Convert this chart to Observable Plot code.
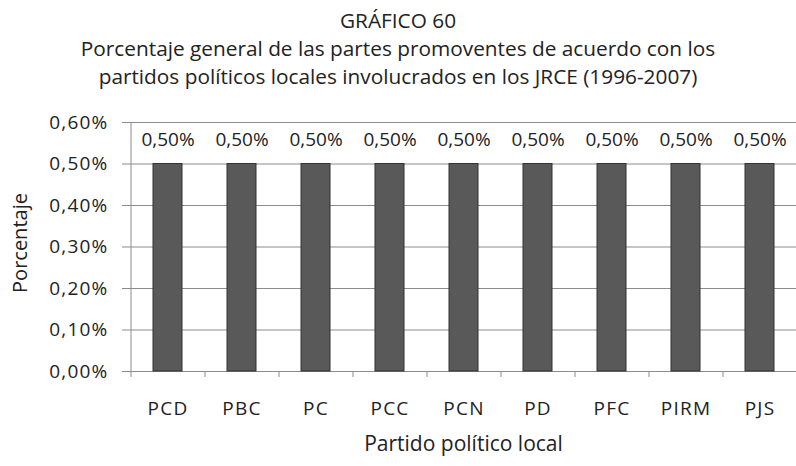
<!DOCTYPE html>
<html>
<head>
<meta charset="utf-8">
<script src="https://cdn.jsdelivr.net/npm/d3@7"></script>
<script src="https://cdn.jsdelivr.net/npm/@observablehq/plot@0.6"></script>
<style>
  html, body { margin: 0; padding: 0; background: #fff; }
  #wrap { width: 796px; height: 466px; position: relative; font-family: "Open Sans", sans-serif; color: #222; }
  #title { height: 100px; position: relative; }
  .tl { position: absolute; left: 0; width: 796px; text-align: center; font-size: 20.8px; line-height: 28px; white-space: nowrap; }
  svg { display: block; }
  g[aria-label="y-axis tick label"] text,
  g[aria-label="x-axis tick label"] text,
  g[aria-label="value-label"] text { letter-spacing: 1.2px; }
</style>
</head>
<body>
<div id="wrap">
  <div id="title">
    <div class="tl" id="t1" style="top:6px"></div>
    <div class="tl" id="t2" style="top:34px"></div>
    <div class="tl" id="t3" style="top:62px"></div>
  </div>
  <div id="chart"></div>
</div>
<script>
const titleLines = [
  "GRÁFICO 60",
  "Porcentaje general de las partes promoventes de acuerdo con los",
  "partidos políticos locales involucrados en los JRCE (1996-2007)"
];
const categories = ["PCD", "PBC", "PC", "PCC", "PCN", "PD", "PFC", "PIRM", "PJS"];
const values = [0.50, 0.50, 0.50, 0.50, 0.50, 0.50, 0.50, 0.50, 0.50];
const yTicks = [0, 0.1, 0.2, 0.3, 0.4, 0.5, 0.6];
const xLabel = "Partido político local";
const yLabel = "Porcentaje";

document.getElementById("t1").textContent = titleLines[0];
document.getElementById("t2").textContent = titleLines[1];
document.getElementById("t3").textContent = titleLines[2];

const data = categories.map((c, i) => ({cat: c, val: values[i]}));
const fmt = d => d.toFixed(2).replace(".", ",") + "%";

const chart = Plot.plot({
  width: 796,
  height: 366,
  marginTop: 22,
  marginBottom: 95,
  marginLeft: 130,
  marginRight: 0,
  style: {fontFamily: "'Open Sans', sans-serif", fontSize: "19px", color: "#222", background: "#fff", overflow: "visible"},
  x: {domain: categories, paddingInner: 0.61, paddingOuter: 0.305, axis: null},
  y: {domain: [0, 0.6], axis: null},
  marks: [
    Plot.gridY(yTicks, {stroke: "#8c8c8c", strokeOpacity: 1}),
    Plot.ruleX([categories[0]], {x: d => d, y1: 0, y2: 0.6, dx: -37, stroke: "#8c8c8c"}),
    Plot.axisY(yTicks, {tickSize: 8, tickPadding: 14, stroke: "#8c8c8c", color: "#222", tickFormat: fmt, label: null, fontSize: 19}),
    Plot.ruleX(categories, {x: d => d, y1: 0, y2: 0, dx: -37, insetBottom: -6, stroke: "#8c8c8c"}),
    Plot.barY(data, {x: "cat", y: "val", fill: "#595959", stroke: "#333", strokeWidth: 1}),
    Plot.text(data, {x: "cat", y: "val", text: d => fmt(d.val), dy: -24.5, fontSize: 19, fill: "#222", ariaLabel: "value-label"}),
    Plot.axisX({tickSize: 0, tickPadding: 30, fontSize: 19, label: null, color: "#222"}),
    Plot.text([xLabel], {frameAnchor: "bottom", dy: 79, fontSize: 21, fill: "#222"}),
    Plot.text([yLabel], {frameAnchor: "left", textAnchor: "middle", dx: -110, dy: -4, rotate: -90, fontSize: 20, fill: "#222"})
  ]
});
document.getElementById("chart").appendChild(chart);
</script>
</body>
</html>
